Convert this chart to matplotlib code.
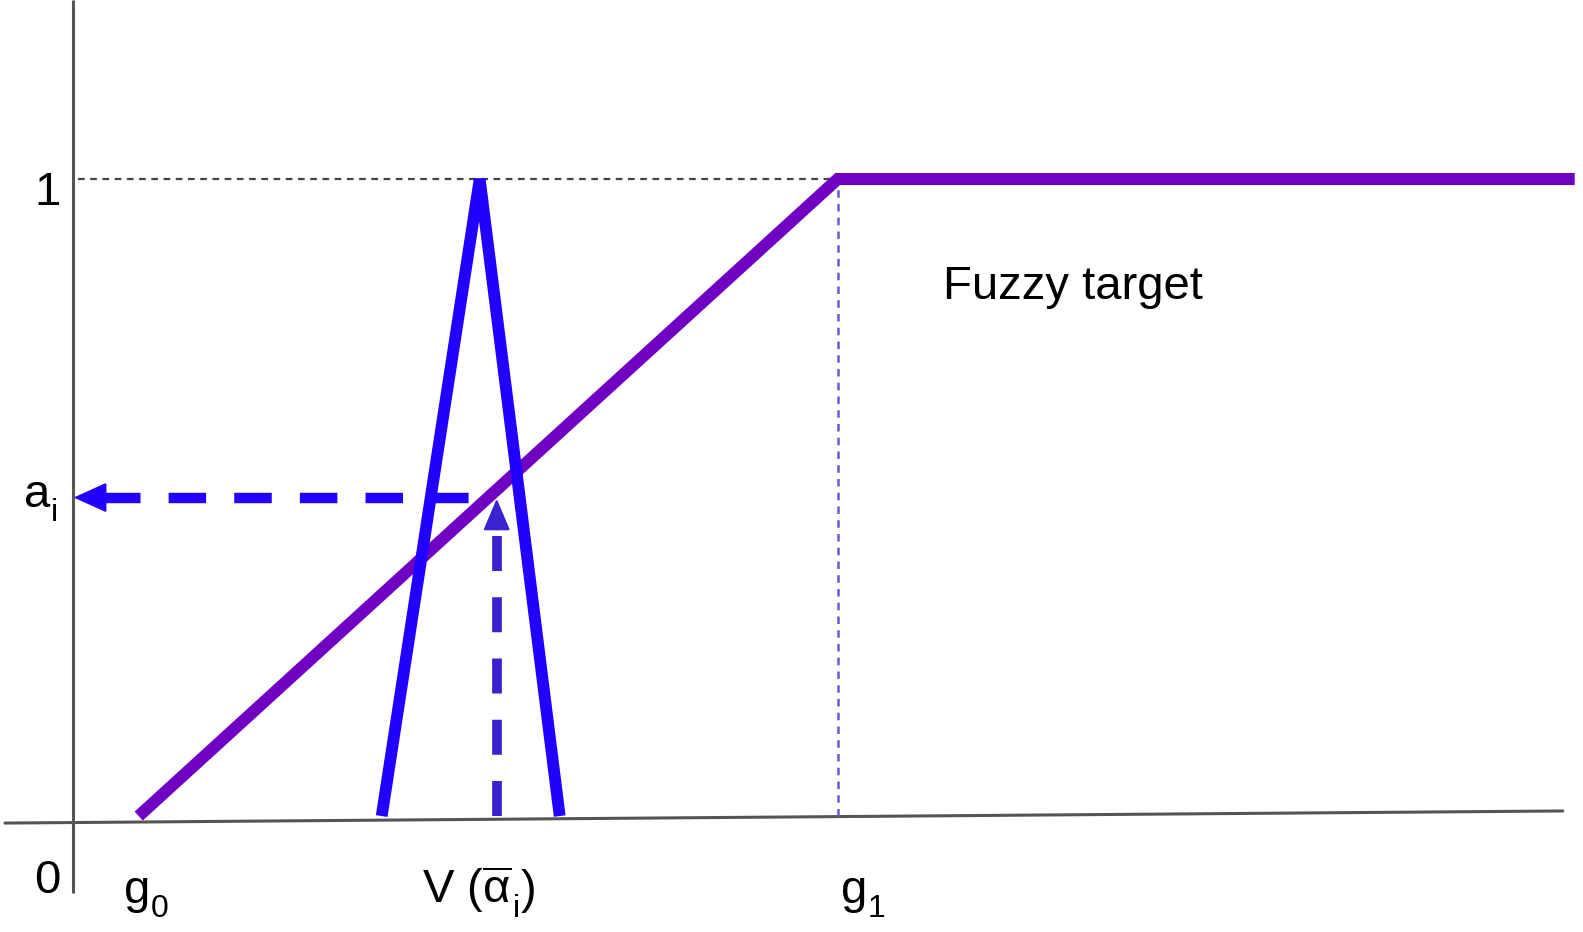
import matplotlib
matplotlib.use("Agg")
import matplotlib.pyplot as plt

plt.rcParams['font.family'] = ['Liberation Sans', 'DejaVu Sans']
plt.rcParams['mathtext.fontset'] = 'custom'
plt.rcParams['mathtext.rm'] = 'Liberation Sans'
plt.rcParams['mathtext.it'] = 'Liberation Sans'
plt.rcParams['mathtext.bf'] = 'Liberation Sans:bold'

# membership values / positions (x in arbitrary units, y is membership)
g0 = 0.66
g1 = 7.65
x_end = 15.02
target_x = [g0, g1, x_end]
target_y = [0.0, 1.0, 1.0]

tri_x = [3.09, 4.07, 4.87]
tri_y = [0.0, 1.0, 0.0]

v_alpha = 4.24
a_i = 0.50

purple = '#7000c2'
blue = '#2200ff'
arrow2 = '#3a22d0'

fig = plt.figure(figsize=(15.83, 9.32), dpi=100)
ax = fig.add_axes([0, 0, 1, 1])
ax.set_xlim(-0.727, 15.103)
ax.set_ylim(-0.182, 1.281)
ax.axis('off')

# hand drawn style axes
ax.plot([0, 0], [-0.121, 1.281], color='#555555', lw=2.2, solid_capstyle='butt')
ax.plot([-0.677, 14.90], [-0.011, 0.008], color='#555555', lw=2.2, solid_capstyle='round')

# guide lines
ax.plot([0.05, g1], [1, 1], color='#444444', lw=1.6, dashes=(3, 2.5))
ax.plot([g1, g1], [0, 1], color='#6a5acd', lw=1.8, dashes=(3, 2.5))

# fuzzy target and alternative
ax.plot(target_x, target_y, color=purple, lw=8.7, solid_capstyle='butt', solid_joinstyle='miter')
ax.plot(tri_x, tri_y, color=blue, lw=8.5, solid_capstyle='butt', solid_joinstyle='bevel')

# a_i projection arrows
ax.plot([0.3, v_alpha - 0.28], [a_i, a_i], color=blue, lw=7.5, dashes=(3.6, 2.7), solid_capstyle='butt')
ax.annotate('', xy=(0.01, a_i), xytext=(0.33, a_i),
            arrowprops=dict(arrowstyle='-|>,head_length=2.1,head_width=0.95',
                            color=blue, lw=1.5, shrinkA=0, shrinkB=0))
ax.plot([v_alpha, v_alpha], [0, a_i - 0.045], color=arrow2, lw=7, dashes=(3.6, 2.7), solid_capstyle='butt')
ax.annotate('', xy=(v_alpha, a_i - 0.002), xytext=(v_alpha, a_i - 0.05),
            arrowprops=dict(arrowstyle='-|>,head_length=2.0,head_width=0.85',
                            color=arrow2, lw=1.5, shrinkA=0, shrinkB=0))

fs = 34
fs_sub = 23
renderer = fig.canvas.get_renderer()


def sub_label(x, y, main, sub, tail=''):
    # main text, then a lowered smaller subscript, then optional tail
    t = ax.text(x, y, main, fontsize=fs, ha='left', va='baseline')
    bb = t.get_window_extent(renderer)
    _, yd = ax.transData.transform((x, y))
    xs, ys = ax.transData.inverted().transform((bb.x1 + 1, yd - 14))
    s = ax.text(xs, ys, sub, fontsize=fs_sub, ha='left', va='baseline')
    if tail:
        bb2 = s.get_window_extent(renderer)
        xt, _ = ax.transData.inverted().transform((bb2.x1 + 1, yd))
        ax.text(xt, y, tail, fontsize=fs, ha='left', va='baseline')


ax.text(-0.25, 0.959, '1', fontsize=fs, ha='center', va='baseline')
ax.text(-0.25, -0.121, '0', fontsize=fs, ha='center', va='baseline')
sub_label(-0.49, 0.485, 'a', 'i')
sub_label(0.51, -0.137, 'g', '0')
sub_label(7.68, -0.137, 'g', '1')
sub_label(3.49, -0.137, r'V ($\overline{\alpha}$', 'i', ')')
ax.text(10.00, 0.83, 'Fuzzy target', fontsize=fs, ha='center', va='center')

fig.savefig('out.png', dpi=100)
